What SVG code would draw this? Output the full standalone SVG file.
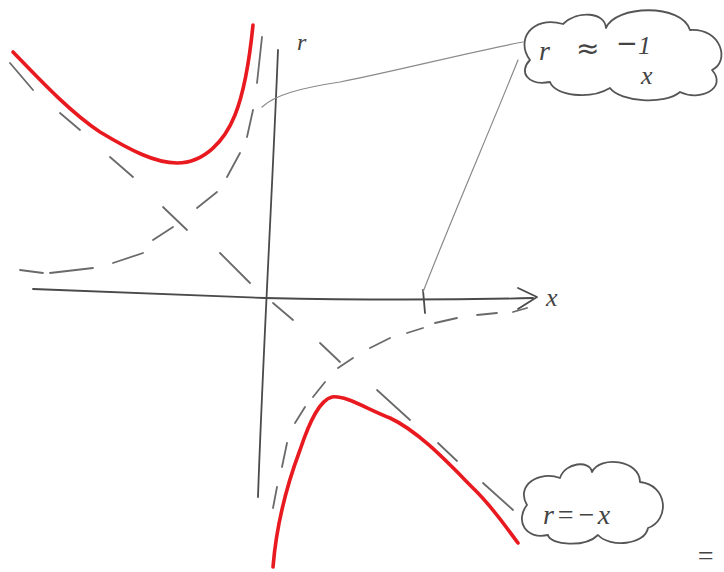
<svg xmlns="http://www.w3.org/2000/svg" width="724" height="572" viewBox="0 0 724 572">
<style>
.pen{fill:none;stroke:#4a4a4a;stroke-width:1.8;stroke-linecap:round;stroke-linejoin:round}
.thin{fill:none;stroke:#8a8a8a;stroke-width:1.2;stroke-linecap:round}
.dash{fill:none;stroke:#6a6a6a;stroke-width:1.8;stroke-linecap:round}
.red{fill:none;stroke:#e8191f;stroke-width:3.6;stroke-linecap:round;stroke-linejoin:round}
.cloud{fill:#fff;stroke:#555;stroke-width:1.8;stroke-linejoin:round}
.hand{font-family:"Liberation Serif",serif;font-style:italic;fill:#444}
.sym{font-family:"DejaVu Sans",sans-serif;fill:#444}
</style>
<rect width="724" height="572" fill="#fff"/>
<g id="axes">
<path class="pen" d="M33,289 C120,292 200,296 265,298 C360,300 450,300 533,298"/>
<path class="pen" d="M518,288 L537,297 L518,309"/>
<path class="pen" d="M278,50 C272,200 263,350 258,497"/>
<path class="pen" d="M423,290 L425,313"/>
<text class="hand" x="546" y="306" font-size="26">x</text>
<text class="hand" x="297" y="50" font-size="24">r</text>
</g>
<g id="asymptote-dashed">
<path class="dash" d="M10,63 L33,90 M60,113 L80,130 M110,157 L133,177 M163,207 L187,230 M220,253 L250,283 M273,303 L293,320 M320,343 L340,362 M377,390 L410,420 M438,443 L457,461 M483,483 L513,510"/>
</g>
<g id="hyperbola-dashed">
<path class="dash" d="M20,270 L43,273 M50,273 L93,268 M113,263 L143,253 M153,240 L173,227 M197,208 L217,192 M227,177 L240,153 M247,137 L253,110 M257,83 L262,37"/>
<path class="dash" d="M273,508 L277,487 M282,467 L287,443 M295,423 L305,407 M313,397 L325,382 M338,368 L353,358 M370,348 L390,338 M407,333 L423,328 M435,323 L457,318 M477,315 L497,313 M513,312 L527,308"/>
</g>
<g id="red-curves">
<path class="red" d="M13,52 C40,80 70,112 100,132 C130,150 155,163 177,163 C205,163 225,140 235,115 C245,90 250,55 253,25"/>
<path class="red" d="M273,567 C276,530 285,490 300,450 C310,420 320,400 332,397 C345,395 365,408 390,418 C420,432 450,465 475,490 C495,510 508,530 518,543"/>
</g>
<g id="connectors">
<path class="thin" d="M262,107 C275,95 300,88 340,82 C400,70 470,52 523,42"/>
<path class="thin" d="M518,60 C490,130 455,210 423,292"/>
</g>
<g id="cloud-approx">
<path class="cloud" d="M530,60 C515,40 532,15 563,24 C578,10 605,12 606,28 C615,5 682,3 690,30 C722,28 730,62 712,70 C728,88 700,102 680,92 C665,105 620,102 610,88 C590,100 555,96 550,82 C528,86 518,72 530,60 Z"/>
<text class="hand" x="539" y="60" font-size="28">r</text>
<text class="sym" x="576" y="58" font-size="28">≈</text>
<text class="sym" x="616" y="52" font-size="26">−</text>
<text class="hand" x="638" y="54" font-size="26">1</text>
<text class="hand" x="641" y="84" font-size="26">x</text>
</g>
<g id="cloud-line">
<path class="cloud" d="M527,505 C515,485 540,470 560,478 C565,462 590,460 592,472 C600,455 640,460 640,482 C668,485 670,520 648,528 C645,545 610,548 598,535 C585,548 550,545 548,535 C525,540 515,520 527,505 Z"/>
<text class="hand" x="543" y="524" font-size="28" letter-spacing="2">r=−x</text>
</g>
<text class="hand" x="696" y="565" font-size="28">=</text>
</svg>
